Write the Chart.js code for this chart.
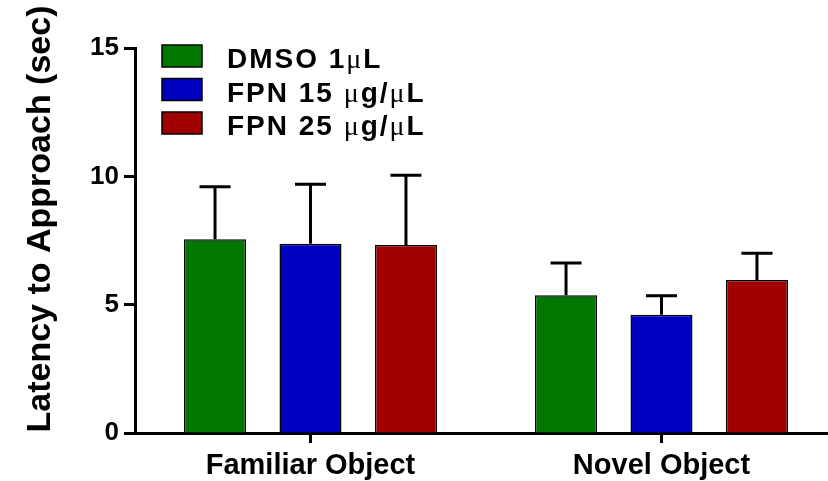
<!DOCTYPE html>
<html>
<head>
<meta charset="utf-8">
<script src="https://cdn.jsdelivr.net/npm/chart.js@4.4.1/dist/chart.umd.min.js"></script>
<style>
  html, body { margin: 0; padding: 0; background: #fff; overflow: hidden; }
  #wrap { width: 838px; height: 481px; }
</style>
</head>
<body>
<div id="wrap"><canvas id="canvas"></canvas></div>
<script>
// groups along the x-axis
const objects = ['Familiar Object', 'Novel Object'];
// mean latency (sec) per treatment
const dmso = [7.55, 5.37];
const fpn15 = [7.37, 4.61];
const fpn25 = [7.32, 5.96];
// SEM, drawn upward only
const dmsoErr = [2.04, 1.25];
const fpn15Err = [2.32, 0.74];
const fpn25Err = [2.72, 1.04];
const yTicks = [0, 5, 10, 15];
const yTitle = 'Latency to Approach (sec)';

const sans = "'Liberation Sans', Arial, sans-serif";
const errors = [dmsoErr, fpn15Err, fpn25Err];

// error bars (line + cap) on top of each bar
const errorBars = {
  id: 'errorBars',
  afterDatasetsDraw(chart) {
    const ctx = chart.ctx;
    const y = chart.scales.y;
    ctx.save();
    ctx.strokeStyle = '#000';
    ctx.lineWidth = 3;
    chart.data.datasets.forEach((ds, i) => {
      chart.getDatasetMeta(i).data.forEach((bar, j) => {
        const top = y.getPixelForValue(ds.data[j] + errors[i][j]);
        const half = bar.width / 4;
        ctx.beginPath();
        ctx.moveTo(bar.x, bar.y);
        ctx.lineTo(bar.x, top);
        ctx.moveTo(bar.x - half, top);
        ctx.lineTo(bar.x + half, top);
        ctx.stroke();
      });
    });
    ctx.restore();
  }
};

// legend top-left and the rotated y title
const decorations = {
  id: 'decorations',
  afterDraw(chart) {
    const ctx = chart.ctx;
    ctx.save();
    chart.data.datasets.forEach((ds, i) => {
      const top = 45 + i * 33.5;
      ctx.fillStyle = ds.backgroundColor;
      ctx.fillRect(162, top, 40, 22);
      ctx.strokeStyle = '#000';
      ctx.lineWidth = 1.5;
      ctx.strokeRect(162, top, 40, 22);
      // μ comes from a serif face, the rest is bold sans, loosely spaced
      ctx.fillStyle = '#000';
      ctx.textBaseline = 'alphabetic';
      let x = 227;
      for (const ch of ds.label) {
        ctx.font = ch === 'μ' ? "28px 'Liberation Serif', serif" : 'bold 28px ' + sans;
        ctx.fillText(ch, x, top + 23);
        x += ctx.measureText(ch).width + 2;
      }
    });
    ctx.translate(41, 219);
    ctx.rotate(-Math.PI / 2);
    ctx.font = 'bold 34px ' + sans;
    ctx.fillStyle = '#000';
    ctx.textAlign = 'center';
    ctx.textBaseline = 'middle';
    ctx.fillText(yTitle, 0, 0);
    ctx.restore();
  }
};

const ctx = document.getElementById('canvas');
const chart = new Chart(ctx, {
  type: 'bar',
  data: {
    labels: objects,
    datasets: [
      { label: 'DMSO 1μL', data: dmso, backgroundColor: 'rgb(0,120,0)' },
      { label: 'FPN 15 μg/μL', data: fpn15, backgroundColor: 'rgb(0,0,192)' },
      { label: 'FPN 25 μg/μL', data: fpn25, backgroundColor: 'rgb(160,0,0)' }
    ].map(d => Object.assign(d, {
      borderColor: '#000',
      borderWidth: 1.5,
      categoryPercentage: 0.816,
      barPercentage: 0.65
    }))
  },
  options: {
    responsive: true,
    maintainAspectRatio: false,
    animation: false,
    layout: { padding: { top: 48, right: 1, left: 0, bottom: 0 } },
    plugins: {
      legend: { display: false },
      tooltip: { enabled: false }
    },
    scales: {
      x: {
        border: { color: '#000', width: 3 },
        grid: {
          offset: false,
          drawOnChartArea: false,
          drawTicks: true,
          tickLength: 10,
          tickWidth: 3,
          tickColor: '#000'
        },
        ticks: {
          color: '#000',
          padding: 6,
          font: { family: sans, size: 29, weight: 'bold' }
        },
        afterFit(scale) { scale.height = 48; }
      },
      y: {
        min: 0,
        max: 15,
        afterBuildTicks(scale) { scale.ticks = yTicks.map(v => ({ value: v })); },
        border: { color: '#000', width: 3 },
        grid: {
          drawOnChartArea: false,
          drawTicks: true,
          tickLength: 11,
          tickWidth: 3,
          tickColor: '#000'
        },
        ticks: {
          color: '#000',
          padding: 5,
          font: { family: sans, size: 26, weight: 'bold' }
        },
        afterFit(scale) { scale.width = 135; }
      }
    }
  },
  plugins: [errorBars, decorations]
});
</script>
</body>
</html>
